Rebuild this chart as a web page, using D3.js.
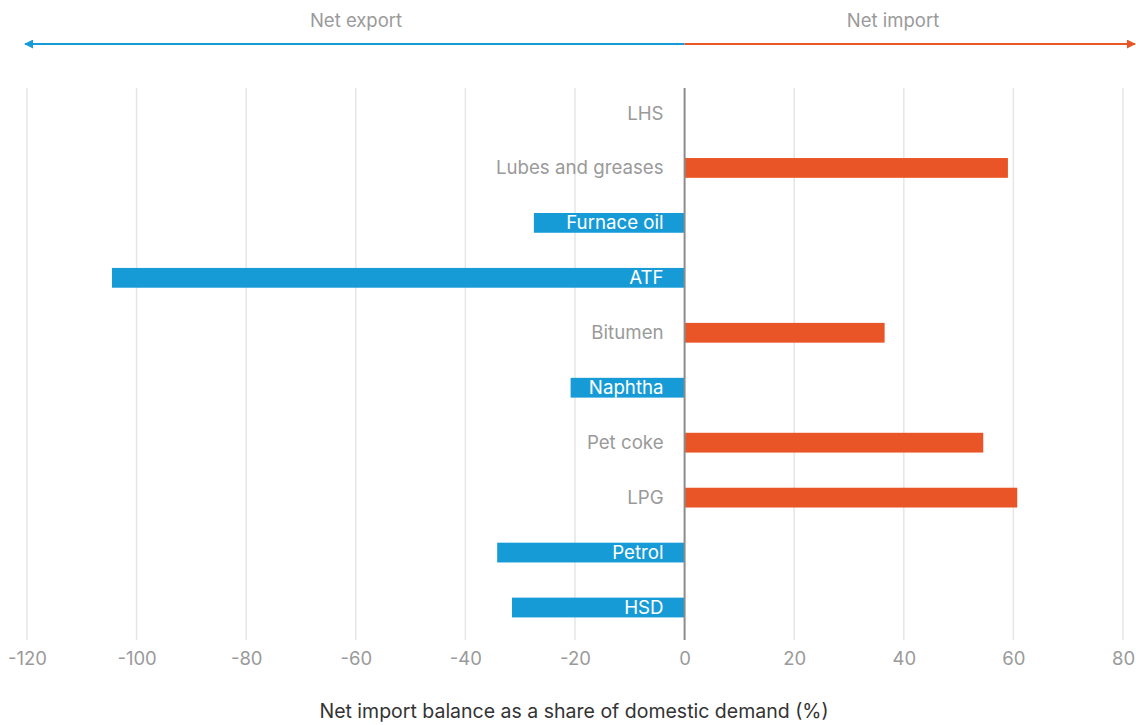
<!DOCTYPE html>
<html>
<head>
<meta charset="utf-8">
<script src="https://cdn.jsdelivr.net/npm/d3@7"></script>
<style>
  body { margin: 0; background: #fff; }
  svg text { font-family: Inter, "Open Sans", sans-serif; }
</style>
</head>
<body>
<div id="chart"></div>
<script>
// products, top to bottom
const products = ["LHS", "Lubes and greases", "Furnace oil", "ATF", "Bitumen",
                  "Naphtha", "Pet coke", "LPG", "Petrol", "HSD"];
// net import balance, % of domestic demand
const netBalance = [0, 59, -27.5, -104.5, 36.5, -20.8, 54.5, 60.7, -34.2, -31.5];
const xTicks = [-120, -100, -80, -60, -40, -20, 0, 20, 40, 60, 80];
const sideLabels = ["Net export", "Net import"];
const axisTitle = "Net import balance as a share of domestic demand (%)";

const data = products.map((p, i) => ({ product: p, value: netBalance[i] }));

const width = 1136, height = 725;
const blue = "#179bd7", orange = "#ea5527", grey = "#9a9a9a";

const svg = d3.select("#chart").append("svg")
  .attr("width", width)
  .attr("height", height);

const x = d3.scaleLinear().domain([-120, 80]).range([27, 1123]);
const y = d3.scaleBand()
  .domain(products)
  .range([85.5, 635])
  .paddingInner(0.64)
  .paddingOuter(0.32);

// grid
svg.append("g")
  .selectAll("line")
  .data(xTicks.filter(d => d !== 0))
  .join("line")
  .attr("x1", d => x(d)).attr("x2", d => x(d))
  .attr("y1", 88).attr("y2", 640)
  .attr("stroke", "#e6e6e6")
  .attr("stroke-width", 1.5);

// bars
svg.append("g")
  .selectAll("rect")
  .data(data.filter(d => d.value !== 0))
  .join("rect")
  .attr("x", d => x(Math.min(0, d.value)))
  .attr("width", d => Math.abs(x(d.value) - x(0)))
  .attr("y", d => y(d.product))
  .attr("height", y.bandwidth())
  .attr("fill", d => d.value < 0 ? blue : orange);

// zero line
svg.append("line")
  .attr("x1", x(0)).attr("x2", x(0))
  .attr("y1", 88).attr("y2", 640)
  .attr("stroke", "#8c8c8c")
  .attr("stroke-width", 2);

// category labels
svg.append("g")
  .selectAll("text")
  .data(data)
  .join("text")
  .attr("x", x(0) - 21)
  .attr("y", d => y(d.product) + y.bandwidth() / 2)
  .attr("dy", "0.35em")
  .attr("text-anchor", "end")
  .attr("font-size", 18.7)
  .attr("fill", d => d.value < 0 ? "#fff" : grey)
  .text(d => d.product);

// x axis tick labels (plain hyphen for negatives, like the original)
const xAxis = svg.append("g")
  .attr("transform", "translate(0,640)")
  .call(d3.axisBottom(x).tickValues(xTicks).tickFormat(d => String(d))
    .tickSize(0).tickPadding(12));
xAxis.select(".domain").remove();
xAxis.selectAll("text")
  .attr("font-size", 18.5)
  .attr("fill", grey)
  .style("font-family", "Inter, 'Open Sans', sans-serif");

svg.append("text")
  .attr("x", 574)
  .attr("y", 718)
  .attr("text-anchor", "middle")
  .attr("font-size", 19.5)
  .attr("fill", "#333")
  .text(axisTitle);

// direction arrows on top
const defs = svg.append("defs");
[["arrowBlue", blue], ["arrowOrange", orange]].forEach(([id, c]) => {
  defs.append("marker")
    .attr("id", id)
    .attr("viewBox", "0 0 10 10")
    .attr("refX", 9).attr("refY", 5)
    .attr("markerWidth", 4.5).attr("markerHeight", 4.5)
    .attr("orient", "auto-start-reverse")
    .append("path")
    .attr("d", "M0,0L10,5L0,10z")
    .attr("fill", c);
});

svg.append("line")
  .attr("x1", x(0)).attr("x2", 25)
  .attr("y1", 44).attr("y2", 44)
  .attr("stroke", blue).attr("stroke-width", 2)
  .attr("marker-end", "url(#arrowBlue)");

svg.append("line")
  .attr("x1", x(0)).attr("x2", 1135)
  .attr("y1", 44).attr("y2", 44)
  .attr("stroke", orange).attr("stroke-width", 2)
  .attr("marker-end", "url(#arrowOrange)");

svg.append("text")
  .attr("x", 356).attr("y", 27)
  .attr("text-anchor", "middle")
  .attr("font-size", 18.5)
  .attr("fill", grey)
  .text(sideLabels[0]);

svg.append("text")
  .attr("x", 893).attr("y", 27)
  .attr("text-anchor", "middle")
  .attr("font-size", 18.5)
  .attr("fill", grey)
  .text(sideLabels[1]);
</script>
</body>
</html>
